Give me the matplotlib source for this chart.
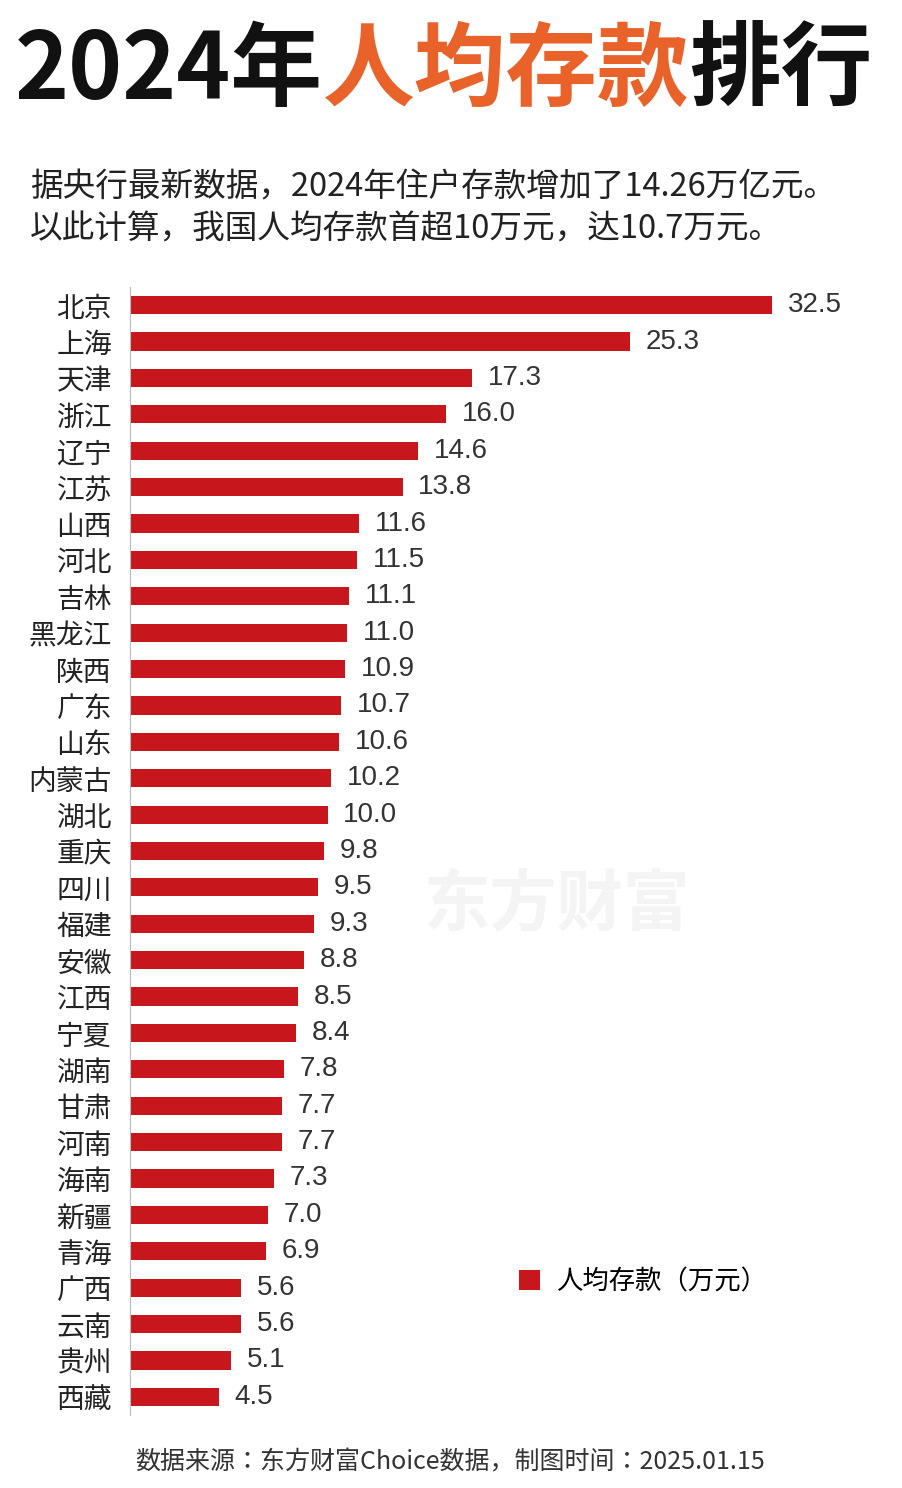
import matplotlib
matplotlib.use("Agg")
import matplotlib.pyplot as plt
from matplotlib import font_manager as fm

names = sorted({f.name for f in fm.fontManager.ttflist})
cjk = [n for n in names if "CJK" in n and "SC" in n] or [n for n in names if "CJK" in n]
plt.rcParams["font.family"] = (cjk[:1] if cjk else []) + ["DejaVu Sans"]
plt.rcParams["font.sans-serif"] = (cjk if cjk else []) + ["DejaVu Sans"]

provinces = ["北京","上海","天津","浙江","辽宁","江苏","山西","河北","吉林","黑龙江","陕西","广东","山东","内蒙古","湖北","重庆","四川","福建","安徽","江西","宁夏","湖南","甘肃","河南","海南","新疆","青海","广西","云南","贵州","西藏"]
values = [32.5,25.3,17.3,16.0,14.6,13.8,11.6,11.5,11.1,11.0,10.9,10.7,10.6,10.2,10.0,9.8,9.5,9.3,8.8,8.5,8.4,7.8,7.7,7.7,7.3,7.0,6.9,5.6,5.6,5.1,4.5]

W, H = 902, 1488
fig = plt.figure(figsize=(W/100, H/100), dpi=100)
fig.patch.set_facecolor("white")

def px(x, y):
    return x / W, 1 - y / H

t1 = fig.text(*px(15, 72), "2024年", fontsize=66, fontweight="bold", color="#111111", va="center", ha="left")
fig.canvas.draw()
bb = t1.get_window_extent()
t2 = fig.text(bb.x1 / W, 1 - 72 / H, "人均存款", fontsize=66, fontweight="bold", color="#e8622a", va="center", ha="left")
fig.canvas.draw()
bb2 = t2.get_window_extent()
fig.text(bb2.x1 / W, 1 - 72 / H, "排行", fontsize=66, fontweight="bold", color="#111111", va="center", ha="left")

fig.text(*px(30, 187), "据央行最新数据，2024年住户存款增加了14.26万亿元。", fontsize=23.5, color="#222222", va="center")
fig.text(*px(30, 230), "以此计算，我国人均存款首超10万元，达10.7万元。", fontsize=23.5, color="#222222", va="center")

ax = fig.add_axes([130/W, 1 - 1415/H, 711/W, 1128/H])
ax.text(0.6, 0.452, "东方财富", transform=ax.transAxes, fontsize=48, fontweight="bold",
        color="#f4f4f4", ha="center", va="center", zorder=0)
y = list(range(len(provinces)))
ax.barh(y, values, height=0.5, color="#c8161d", label="人均存款（万元）", zorder=2)
ax.set_ylim(len(provinces) - 0.5, -0.5)
ax.set_xlim(0, 36)
ax.set_yticks(y)
ax.set_yticklabels(provinces, fontsize=20, color="#222222")
ax.tick_params(axis="y", length=0, pad=13)
ax.set_xticks([])
for s in ["top", "right", "bottom"]:
    ax.spines[s].set_visible(False)
ax.spines["left"].set_color("#bbbbbb")
for yi, v in zip(y, values):
    ax.text(v + 0.8, yi, f"{v:.1f}", va="center", ha="left", fontsize=20, color="#333333",
            fontfamily="Liberation Sans", zorder=3)
ax.legend(loc="center left", bbox_to_anchor=(365/711, 1 - (1282-287)/1128), frameon=False,
          fontsize=19, handlelength=0.8, handleheight=0.8, handletextpad=0.6)

fig.text(*px(450, 1462), "数据来源：东方财富Choice数据，制图时间：2025.01.15", fontsize=18, color="#333333", ha="center", va="center")

fig.savefig("out.png", dpi=100, facecolor="white")
